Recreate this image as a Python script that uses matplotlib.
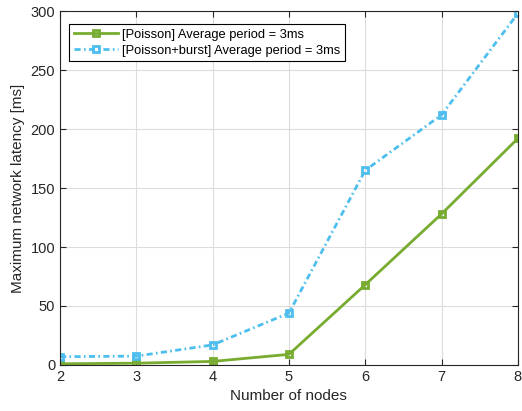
import matplotlib
matplotlib.use("Agg")
import matplotlib.pyplot as plt

nodes = [2, 3, 4, 5, 6, 7, 8]
poisson = [1, 1.5, 3, 9, 68, 128, 192]
burst = [7, 7.5, 17, 44, 165, 212, 298]

labels = ["[Poisson] Average period = 3ms", "[Poisson+burst] Average period = 3ms"]
green = "#77AC30"
blue = "#4DBEEE"

plt.rcParams["font.family"] = ["Liberation Sans", "DejaVu Sans"]

fig = plt.figure(figsize=(5.22, 4.11), dpi=100)
ax = fig.add_axes([0.115, 0.112, 0.877, 0.861])

ax.plot(nodes, poisson, color=green, lw=2, marker="s", ms=5, mfc="none", mew=2, label=labels[0])
ax.plot(nodes, burst, color=blue, lw=2, ls=(0, (2.2, 1.2, 0.6, 1.2)), marker="s", ms=5,
        mfc="none", mew=2, label=labels[1])

ax.set_xlim(2, 8)
ax.set_ylim(0, 300)
ax.set_xticks(nodes)
ax.set_yticks([0, 50, 100, 150, 200, 250, 300])
ax.grid(True, color="#dcdcdc", lw=0.8)
ax.set_axisbelow(True)
ax.tick_params(direction="in", top=True, right=True, labelsize=10.5, colors="#262626", length=4)
for s in ax.spines.values():
    s.set_color("#262626")
    s.set_linewidth(0.8)

ax.set_xlabel("Number of nodes", fontsize=11, color="#262626")
ax.set_ylabel("Maximum network latency [ms]", fontsize=11, color="#262626")

leg = ax.legend(loc="upper left", bbox_to_anchor=(0.015, 0.97), fontsize=9.3, handlelength=3.4,
                fancybox=False, framealpha=1, edgecolor="black", borderaxespad=0.2,
                labelspacing=0.3, handletextpad=0.3, borderpad=0.35)
leg.get_frame().set_linewidth(0.8)

fig.savefig("out.png", dpi=100)
